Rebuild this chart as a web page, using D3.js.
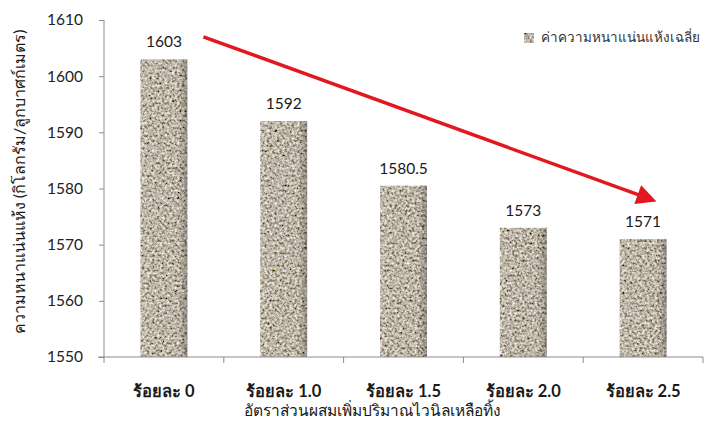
<!DOCTYPE html>
<html>
<head>
<meta charset="utf-8">
<script src="https://cdn.jsdelivr.net/npm/d3@7"></script>
<style>
  html, body { margin: 0; padding: 0; background: #fff; }
  svg { display: block; }
  text { font-family: Lato, "Open Sans", "Liberation Sans", sans-serif; }
</style>
</head>
<body>
<svg id="chart" width="717" height="432"></svg>
<script>
// Dry density by waste vinyl content
const categories = ["ร้อยละ 0", "ร้อยละ 1.0", "ร้อยละ 1.5", "ร้อยละ 2.0", "ร้อยละ 2.5"];
const densities = [1603, 1592, 1580.5, 1573, 1571];
const densityLabels = ["1603", "1592", "1580.5", "1573", "1571"];
const yTicks = [1550, 1560, 1570, 1580, 1590, 1600, 1610];
const yTitle = "ความหนาแน่นแห้ง (กิโลกรัม/ลูกบาศก์เมตร)";
const xTitle = "อัตราส่วนผสมเพิ่มปริมาณไวนิลเหลือทิ้ง";
const legendLabel = "ค่าความหนาแน่นแห้งเฉลี่ย";
// Trend arrow ends: position in category units, value in kg/m³
const trendPos = [0.33, 4.12];
const trendVal = [1607, 1577.6];

const svg = d3.select("#chart");
const plotLeft = 104, plotRight = 703, plotTop = 20, plotBottom = 357;

const x = d3.scaleBand().domain(categories).range([plotLeft, plotRight])
  .paddingInner(0.608).paddingOuter(0.304);
const y = d3.scaleLinear().domain([1550, 1610]).range([plotBottom, plotTop]);
const c0 = x(categories[0]) + x.bandwidth() / 2;
const xi = d3.scaleLinear().domain([0, 1]).range([c0, c0 + x.step()]);

// Stone-like grain for bars
const defs = svg.append("defs");
const grain = defs.append("filter").attr("id", "grain")
  .attr("x", 0).attr("y", 0).attr("width", 1).attr("height", 1);
grain.append("feTurbulence").attr("type", "fractalNoise")
  .attr("baseFrequency", 0.4).attr("numOctaves", 3).attr("seed", 7).attr("result", "n");
grain.append("feColorMatrix").attr("in", "n").attr("type", "matrix")
  .attr("values", "1.35 0 0 0 -0.17  1.35 0 0 0 -0.21  1.35 0 0 0 -0.28  0 0 0 0 1")
  .attr("result", "c");
grain.append("feGaussianBlur").attr("in", "c").attr("stdDeviation", 0.55).attr("result", "b");
grain.append("feComposite").attr("in", "b").attr("in2", "SourceGraphic").attr("operator", "in");

const shade = defs.append("linearGradient").attr("id", "shade")
  .attr("x1", 0).attr("x2", 1).attr("y1", 0).attr("y2", 0);
shade.append("stop").attr("offset", "0%").attr("stop-color", "#fff").attr("stop-opacity", 0.05);
shade.append("stop").attr("offset", "80%").attr("stop-color", "#000").attr("stop-opacity", 0.0);
shade.append("stop").attr("offset", "100%").attr("stop-color", "#000").attr("stop-opacity", 0.25);

defs.append("marker").attr("id", "head")
  .attr("viewBox", "0 0 10 10").attr("refX", 2).attr("refY", 5)
  .attr("markerUnits", "userSpaceOnUse")
  .attr("markerWidth", 22).attr("markerHeight", 20)
  .attr("orient", "auto")
  .append("path").attr("d", "M0,0 L10,5 L0,10 Z").attr("fill", "#e3171f");

// Bars
const bars = svg.append("g");
bars.selectAll("rect.bar").data(densities).join("rect").attr("class", "bar")
  .attr("x", (d, i) => x(categories[i]))
  .attr("y", d => y(d))
  .attr("width", x.bandwidth())
  .attr("height", d => y(1550) - y(d))
  .attr("fill", "#9d978a")
  .attr("filter", "url(#grain)");
bars.selectAll("rect.shade").data(densities).join("rect").attr("class", "shade")
  .attr("x", (d, i) => x(categories[i]))
  .attr("y", d => y(d))
  .attr("width", x.bandwidth())
  .attr("height", d => y(1550) - y(d))
  .attr("fill", "url(#shade)");

// Value labels
svg.append("g").selectAll("text").data(densities).join("text")
  .attr("x", (d, i) => x(categories[i]) + x.bandwidth() / 2)
  .attr("y", d => y(d) - 12)
  .attr("text-anchor", "middle")
  .attr("font-size", 15.5)
  .attr("fill", "#1a1a1a")
  .text((d, i) => densityLabels[i]);

// Y axis
const yAxis = svg.append("g").attr("transform", `translate(${plotLeft},0)`)
  .call(d3.axisLeft(y).tickValues(yTicks).tickFormat(d3.format("d")).tickSize(5).tickPadding(16));
yAxis.select(".domain").attr("stroke", "#8c8c8c").attr("d", `M0,${plotTop}V${plotBottom}`);
yAxis.selectAll(".tick line").attr("stroke", "#8c8c8c");
yAxis.selectAll(".tick text").attr("font-size", 15.5).attr("fill", "#222")
  .attr("font-family", "Lato, 'Open Sans', sans-serif");

// X axis: baseline with boundary ticks, category labels centered
const xAxis = svg.append("g").attr("transform", `translate(0,${plotBottom})`);
xAxis.append("line").attr("x1", plotLeft - 6).attr("x2", plotRight).attr("stroke", "#8c8c8c");
const boundaries = d3.range(categories.length + 1).map(i => plotLeft + i * (plotRight - plotLeft) / categories.length);
xAxis.selectAll("line.tk").data(boundaries).join("line").attr("class", "tk")
  .attr("x1", d => d).attr("x2", d => d).attr("y1", 0).attr("y2", 6)
  .attr("stroke", "#8c8c8c");
const xLab = svg.append("g").attr("transform", `translate(0,${plotBottom})`)
  .call(d3.axisBottom(x).tickSize(0).tickPadding(28));
xLab.select(".domain").remove();
xLab.selectAll(".tick text").attr("font-size", 16.5).attr("font-weight", "bold").attr("fill", "#1a1a1a")
  .attr("font-family", "Tahoma, 'DejaVu Sans', sans-serif");

// Axis titles
svg.append("text").attr("x", 372).attr("y", 416).attr("text-anchor", "middle")
  .attr("font-size", 15.5).attr("fill", "#1a1a1a")
  .attr("font-family", "Tahoma, 'DejaVu Sans', sans-serif")
  .text(xTitle);
svg.append("text").attr("transform", "translate(25,182) rotate(-90)")
  .attr("text-anchor", "middle").attr("font-size", 16).attr("fill", "#1a1a1a")
  .attr("font-family", "Tahoma, 'DejaVu Sans', sans-serif")
  .text(yTitle);

// Legend
svg.append("rect").attr("x", 524).attr("y", 33).attr("width", 10).attr("height", 10)
  .attr("fill", "#8f8a80").attr("filter", "url(#grain)");
svg.append("text").attr("x", 541).attr("y", 42).attr("font-size", 13.5).attr("fill", "#333")
  .attr("font-family", "Tahoma, 'DejaVu Sans', sans-serif")
  .text(legendLabel);

// Downward trend arrow
svg.append("line")
  .attr("x1", xi(trendPos[0])).attr("y1", y(trendVal[0]))
  .attr("x2", xi(trendPos[1]) - 16).attr("y2", y(trendVal[1]) - 6)
  .attr("stroke", "#e3171f").attr("stroke-width", 3.5)
  .attr("marker-end", "url(#head)");
</script>
</body>
</html>
